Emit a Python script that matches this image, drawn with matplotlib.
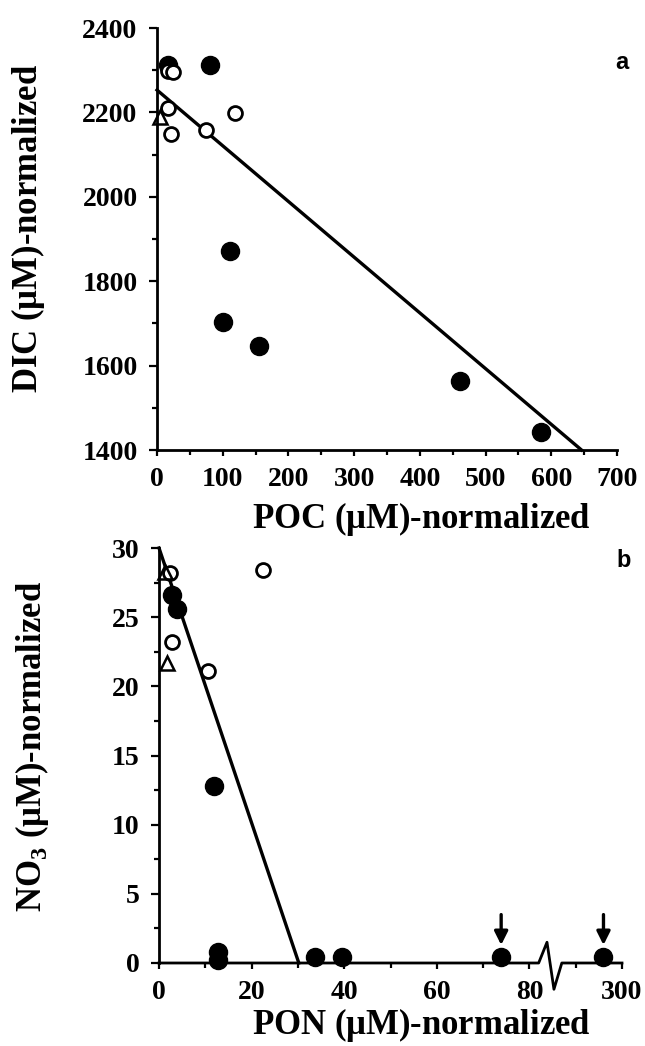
import numpy as np
import matplotlib.pyplot as plt
from matplotlib.ticker import MultipleLocator

plt.rcParams['font.family'] = ['Liberation Serif', 'DejaVu Serif']
plt.rcParams['font.weight'] = 'bold'
plt.rcParams['mathtext.fontset'] = 'custom'
plt.rcParams['mathtext.rm'] = 'Liberation Serif'
plt.rcParams['mathtext.bf'] = 'Liberation Serif:bold'

# panel a: DIC vs POC
poc_filled = [17, 80, 111, 100, 155, 461, 585]
dic_filled = [2313, 2313, 1872, 1704, 1647, 1563, 1443]
poc_open = [17, 25, 17, 21, 74, 118]
dic_open = [2298, 2296, 2211, 2149, 2158, 2199]
poc_tri = [5]
dic_tri = [2188]
fit_a_x = [0, 646]
fit_a_y = [2253, 1400]

# panel b: NO3 vs PON (values past the axis break are > 200)
pon_filled = [2.7, 3.8, 11.8, 12.7, 12.7, 33.7, 39.5, 73.9, 296]
no3_filled = [26.6, 25.6, 12.8, 0.8, 0.25, 0.4, 0.4, 0.4, 0.4]
pon_open = [2.4, 2.7, 10.6, 22.5]
no3_open = [28.2, 23.2, 21.1, 28.4]
pon_tri = [1.3, 1.7]
no3_tri = [28.3, 21.7]
fit_b_x = [0, 30.2]
fit_b_y = [30, 0]
arrow_pon = [73.9, 296]
b_ticks = [0, 20, 40, 60, 80, 300]


def brk(x):
    # values after the break are drawn shifted by 200
    x = np.asarray(x, dtype=float)
    return np.where(x > 100, x - 200, x)


fig = plt.figure(figsize=(6.45, 10.46), dpi=100)
ax1 = fig.add_axes([157 / 645, 1 - 450 / 1046, 460 / 645, 422 / 1046])
ax2 = fig.add_axes([159 / 645, 1 - 963 / 1046, 463 / 645, 415 / 1046])

for ax in (ax1, ax2):
    for s in ('top', 'right'):
        ax.spines[s].set_visible(False)
    for s in ('left', 'bottom'):
        ax.spines[s].set_linewidth(2.0)
    ax.tick_params(which='major', direction='out', width=1.6, labelsize=20, pad=8)
    ax.tick_params(axis='y', which='major', length=6)
    ax.tick_params(axis='x', which='major', length=4.5)
    ax.tick_params(which='minor', direction='out', width=1.6, length=3.5)
    ax.patch.set_alpha(0)

ms_f, ms_o = 13, 10

# ---- a
ax1.plot(fit_a_x, fit_a_y, color='black', lw=2.4, clip_on=False, zorder=2)
ax1.plot(poc_filled, dic_filled, 'o', color='black', ms=ms_f, clip_on=False, zorder=3)
ax1.plot(poc_open, dic_open, 'o', mfc='white', mec='black', mew=2.0, ms=ms_o,
         clip_on=False, zorder=3)
ax1.plot(poc_tri, dic_tri, '^', mfc='none', mec='black', mew=1.8, ms=10,
         clip_on=False, zorder=3)
ax1.set_xlim(0, 700)
ax1.set_ylim(1400, 2400)
ax1.set_xticks(range(0, 701, 100))
ax1.set_yticks(range(1400, 2401, 200))
ax1.xaxis.set_minor_locator(MultipleLocator(50))
ax1.yaxis.set_minor_locator(MultipleLocator(100))
ax1.text(708, 2319, 'a', family='Liberation Sans', weight='bold', fontsize=17,
         ha='center', va='center')

# ---- b
ax2.spines['bottom'].set_visible(False)
ax2.plot([0, 82, 83.8, 85.3, 87, 100], [0, 0, 1.5, -1.9, 0, 0], color='black',
         lw=2.0, clip_on=False, zorder=2)
ax2.plot(fit_b_x, fit_b_y, color='black', lw=2.4, clip_on=False, zorder=2)
ax2.plot(brk(pon_filled), no3_filled, 'o', color='black', ms=ms_f, clip_on=False, zorder=3)
ax2.plot(pon_open, no3_open, 'o', mfc='white', mec='black', mew=2.0, ms=ms_o,
         clip_on=False, zorder=3)
ax2.plot(pon_tri, no3_tri, '^', mfc='none', mec='black', mew=1.8, ms=10,
         clip_on=False, zorder=3)
for xa in brk(arrow_pon):
    ax2.annotate('', xy=(xa, 1.1), xytext=(xa, 3.7),
                 arrowprops=dict(arrowstyle='-|>,head_length=0.8,head_width=0.4',
                                 color='black', lw=2.4))
ax2.set_xlim(0, 100)
ax2.set_ylim(0, 30)
ax2.set_xticks(brk(b_ticks))
ax2.set_xticklabels([str(t) for t in b_ticks])
ax2.set_yticks(range(0, 31, 5))
ax2.xaxis.set_minor_locator(MultipleLocator(10))
ax2.yaxis.set_minor_locator(MultipleLocator(2.5))
ax2.text(100.4, 29.1, 'b', family='Liberation Sans', weight='bold', fontsize=17,
         ha='center', va='center')

# axis titles
fig.text(421 / 645, 1 - 519 / 1046, r'POC $\mathrm{(μM)}$-normalized', fontsize=25,
         ha='center', va='center')
fig.text(28 / 645, 1 - 228 / 1046, r'DIC $\mathrm{(μM)}$-normalized', fontsize=25,
         ha='center', va='center', rotation=90)
fig.text(421 / 645, 1 - 1025 / 1046, r'PON $\mathrm{(μM)}$-normalized', fontsize=25,
         ha='center', va='center')
fig.text(32 / 645, 1 - 746 / 1046, r'NO$_\mathbf{3}$ $\mathrm{(μM)}$-normalized',
         fontsize=25, ha='center', va='center', rotation=90)

fig.savefig('out.png', dpi=100)
